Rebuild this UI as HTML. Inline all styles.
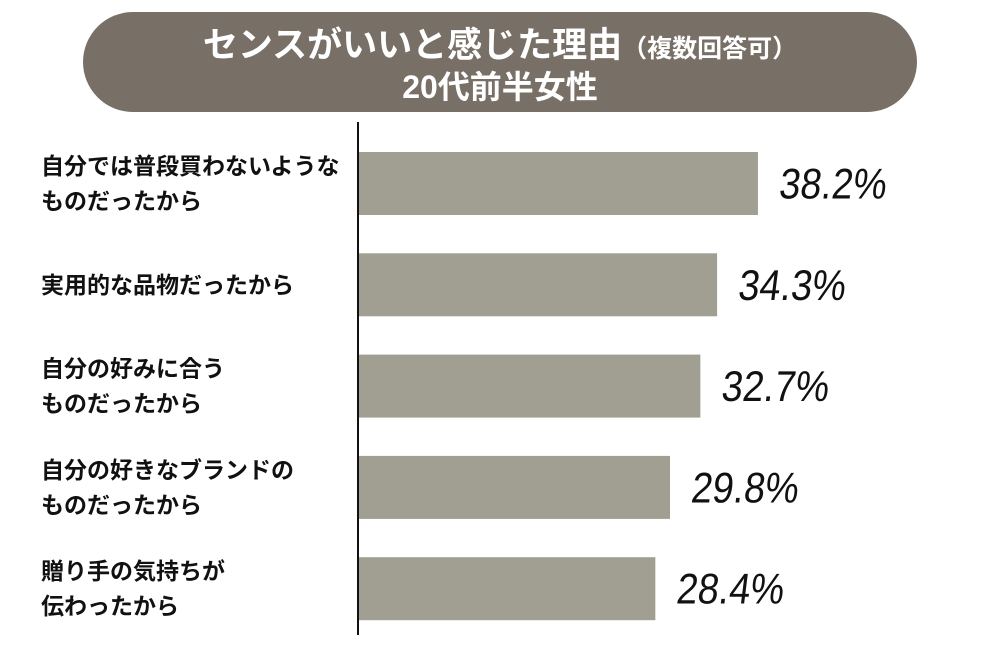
<!DOCTYPE html>
<html><head><meta charset="utf-8">
<style>
html,body{margin:0;padding:0;background:#fff;}
svg{display:block;font-family:"Liberation Sans","Noto Sans CJK JP",sans-serif;}
</style></head>
<body>
<svg id="chart" width="1001" height="654" viewBox="0 0 1001 654">
  <rect x="83" y="12" width="834" height="100" rx="50" fill="#786f67"/>
  <text x="500" y="57" text-anchor="middle" fill="#fff" font-weight="bold" font-size="35">センスがいいと感じた理由<tspan font-size="25">（複数回答可）</tspan></text>
  <text x="500" y="98" text-anchor="middle" fill="#fff" font-weight="bold" font-size="32">20代前半女性</text>
  <line x1="358" y1="122" x2="358" y2="635" stroke="#111" stroke-width="2"/>
  <g id="bars"></g>
</svg>
<script>
const categories = [
  ["自分では普段買わないような","ものだったから"],
  ["実用的な品物だったから"],
  ["自分の好みに合う","ものだったから"],
  ["自分の好きなブランドの","ものだったから"],
  ["贈り手の気持ちが","伝わったから"]
];
const values = [38.2, 34.3, 32.7, 29.8, 28.4];
const valueLabels = ["38.2%","34.3%","32.7%","29.8%","28.4%"];

const x0 = 358, pxPer = 10.47;
const xScale = v => x0 + v * pxPer;
const yTop = i => 152 + i * 101.3;
const barH = 63;
const ns = "http://www.w3.org/2000/svg";
const g = document.getElementById('bars');
values.forEach((v, i) => {
  const y = yTop(i);
  const r = document.createElementNS(ns, 'rect');
  r.setAttribute('x', x0 + 1);
  r.setAttribute('y', y);
  r.setAttribute('width', xScale(v) - x0 - 1);
  r.setAttribute('height', barH);
  r.setAttribute('fill', '#a09f91');
  
  
  g.appendChild(r);

  const t = document.createElementNS(ns, 'text');
  const tx = xScale(v) + 20;
  t.setAttribute('x', 0);
  t.setAttribute('y', 0);
  t.setAttribute('transform', `translate(${tx},${y + barH / 2 + 15}) scale(0.88,1) skewX(-8)`);
  t.setAttribute('font-size', '43');
  t.setAttribute('fill', '#111');
  t.textContent = valueLabels[i];
  
  
  g.appendChild(t);

  const lines = categories[i];
  const lh = 35;
  const startY = y + barH / 2 - (lines.length - 1) * lh / 2 + 8;
  lines.forEach((ln, j) => {
    const c = document.createElementNS(ns, 'text');
    c.setAttribute('x', 41);
    c.setAttribute('y', startY + j * lh);
    c.setAttribute('font-size', '23');
    c.setAttribute('font-weight', 'bold');
    c.setAttribute('fill', '#111');
    c.textContent = ln;
    
    
    g.appendChild(c);
  });
});
</script>
</body></html>
